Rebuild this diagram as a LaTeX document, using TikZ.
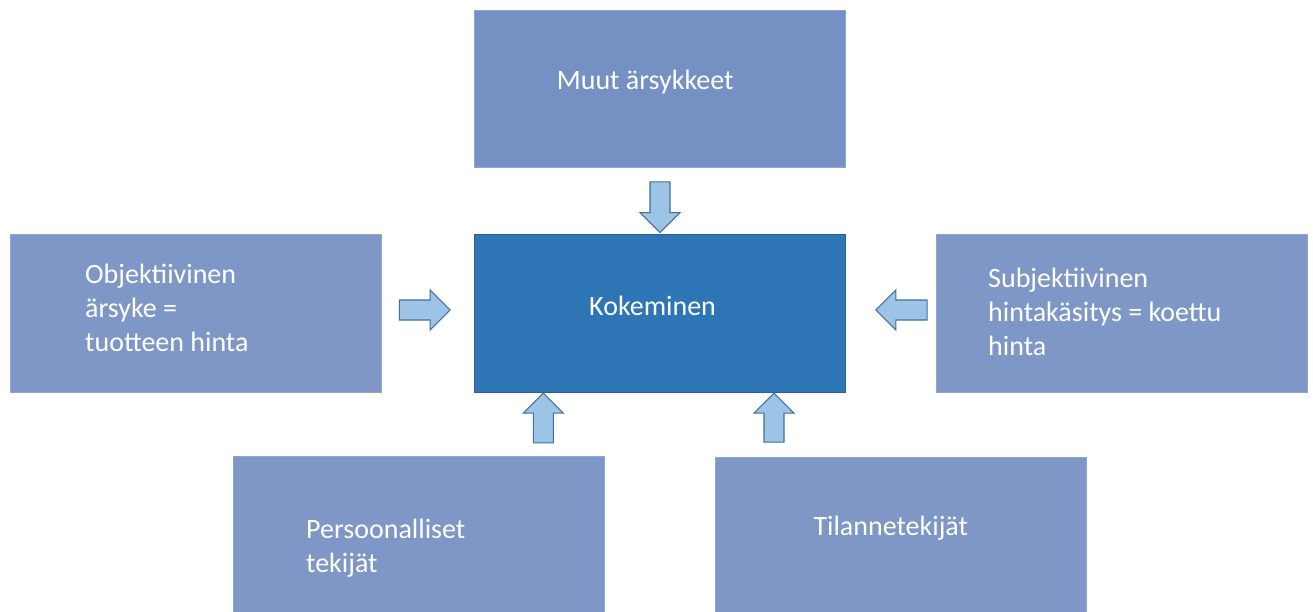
\documentclass[tikz,border=0pt]{standalone}
\usepackage{fontspec}
\setmainfont{Carlito}
\usetikzlibrary{calc}

\definecolor{boxfill}{RGB}{127,151,198}
\definecolor{topfill}{RGB}{117,144,194}
\definecolor{boxline}{RGB}{143,166,208}
\definecolor{corefill}{RGB}{46,117,182}
\definecolor{coreline}{RGB}{40,98,158}
\definecolor{arrowfill}{RGB}{157,195,230}
\definecolor{arrowline}{RGB}{65,113,156}

% left-aligned lines whose baseline is the first line's baseline
\newcommand\stackedlines[1]{\begin{tabular}[t]{@{}l@{}}#1\end{tabular}}

\tikzset{
  box/.style={draw=boxline, line width=0.8pt, fill=boxfill,
    minimum width=371pt, minimum height=158pt, inner sep=0pt},
  corebox/.style={box, draw=coreline, fill=corefill},
  boxtext/.style={text=white, inner sep=0pt, anchor=base west,
    font=\fontsize{28}{34}\selectfont},
  fatarrow/.style={draw=arrowline, fill=arrowfill, line width=1.1pt, line join=miter}
}

% block arrow from #1 (tail) to #2 (tip): shaft 20pt wide, head 40pt wide and 20pt long
\newcommand\fatarrow[2]{%
  \coordinate (fa-h) at ($(#2)!20pt!(#1)$);
  \draw[fatarrow]
    ($(#1)!10pt!90:(#2)$) -- ($(fa-h)!10pt!90:(#2)$) -- ($(fa-h)!20pt!90:(#2)$)
    -- (#2)
    -- ($(fa-h)!20pt!-90:(#2)$) -- ($(fa-h)!10pt!-90:(#2)$) -- ($(#1)!10pt!-90:(#2)$)
    -- cycle;
}

\begin{document}
\begin{tikzpicture}[x=1pt, y=-1pt]
  \clip (0,0) rectangle (1313,612);
  \fill[white] (0,0) rectangle (1313,612);

  % boxes
  \node[box, fill=topfill, minimum height=157pt] (muut) at (660,88.5) {};
  \node[corebox] (koke) at (660,313) {};
  \node[box] (obj) at (196,313) {};
  \node[box] (subj) at (1122,313) {};
  \node[box, minimum height=160pt] (pers) at (418.5,536) {};
  \node[box, minimum height=160pt] (tila) at (901,537.5) {};

  % box texts
  \node[boxtext] (muut-t) at ($(muut.center)+(-103.3,1.5)$) {Muut ärsykkeet};
  \node[boxtext] (koke-t) at ($(koke.center)+(-71,2.7)$) {Kokeminen};
  \node[boxtext] (obj-t) at ($(obj.center)+(-111,-29.7)$)
    {\stackedlines{Objektiivinen\\ärsyke =\\tuotteen hinta}};
  \node[boxtext] (subj-t) at ($(subj.center)+(-134,-26)$)
    {\stackedlines{Subjektiivinen\\hintakäsitys = koettu\\hinta}};
  \node[boxtext] (pers-t) at ($(pers.center)+(-112.5,2)$)
    {\stackedlines{Persoonalliset\\tekijät}};
  \node[boxtext] (tila-t) at ($(tila.center)+(-87.7,-1.8)$) {Tilannetekijät};

  % arrow ends
  \coordinate (a1t) at ($(muut.south)+(0,14.5)$);
  \coordinate (a1h) at ($(koke.north)+(0,-1)$);
  \coordinate (a2t) at ($(obj.east)+(17.5,-3)$);
  \coordinate (a2h) at ($(koke.west)+(-24,-3)$);
  \coordinate (a3t) at ($(subj.west)+(-9,-3)$);
  \coordinate (a3h) at ($(koke.east)+(30,-3)$);
  \coordinate (a4t) at ($(pers.north)+(124.8,-12.7)$);
  \coordinate (a4h) at ($(koke.south)+(-116.7,0.7)$);
  \coordinate (a5t) at ($(tila.north)+(-127,-15)$);
  \coordinate (a5h) at ($(koke.south)+(114,0.7)$);

  \fatarrow{a1t}{a1h}
  \fatarrow{a2t}{a2h}
  \fatarrow{a3t}{a3h}
  \fatarrow{a4t}{a4h}
  \fatarrow{a5t}{a5h}
\end{tikzpicture}
\end{document}
